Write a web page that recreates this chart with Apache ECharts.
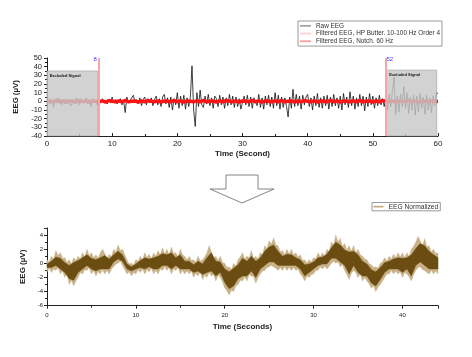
<!DOCTYPE html>
<html><head><meta charset="utf-8">
<script src="https://cdn.jsdelivr.net/npm/echarts@6/dist/echarts.min.js"></script>
<style>html,body{margin:0;padding:0;background:#fff}#c{width:472px;height:357px}</style>
</head><body><div id="c"></div><script>
// ---- Top chart: raw + filtered EEG (0-60 s) ----
const rawEEG = [
0,2,-3,1, -7,3,-2,4, 1,-4,2,-3, 3,-2,0,-5, 2,-3,4,-1, -4,3,-2,1, 4,-3,2,-6, 3,-2,1,-4,
2,-1,3,-2, 1,-3,2,-2, 5,-1,2,-3, -2,3,-4,1,
-13,5,-2,1, 3,7,-1,2, -3,4,-5,2, 5,-4,3,-2, 4,-5,2,6, -4,3,-6,5, 8,-3,4,-7, 5,-10,3,-4,
10,-8,6,-5, 7,-9,4,-6, 5,41,-10,-29, 10,-6,13,-4,
-7,6,-3,8, -5,4,-8,6, 3,-6,7,-4, 5,-8,4,-5, 8,-4,6,-7, 5,-6,3,-9,
-10,6,-4,7, -6,5,-8,4, 6,-5,8,-7, 4,-9,6,-4, 7,-6,5,-8, 10,-5,7,-9, 5,-7,4,-6,
-18,5,-8,14, -6,8,-5,6, -9,7,-4,5,
8,-6,4,-10, 6,-5,9,-7, 4,-8,6,-5, 7,-9,5,-6, 8,-5,4,-8, 6,-10,9,-4, 5,-7,11,-5, 6,-9,4,-6, 8,-5,6,-11, 5,-6,9,-4, 6,-8,4,-5, 7,-4,3,-6,
5,-10,8,-6, 12,28,-15,6, -12,8,-6,17, -8,10,-14,5, -10,7,-16,6, -12,9,-8,5, -15,7,-10,4, -13,6,-5,10, 9
];
const hpEEG = [0,1,-1,1,-1,0,1,-1,1,0,-1,1,-1,0,1,-1,1,0,-1,1, -1,0,1,-1,1,0,-1,1,-1,0, 1,-1,1,0,-1,1,-1,0,1,-1, 1,0,-1,1,-1,0,1,-1,1,0, -1,1,-1,0,1,-1,1,0,-1,1, 0];
const notchEEG = [0,0.5,-0.5,1,-0.5,0.5,-1,0.5,0,-0.5, 1,-0.5,0.5,-1,0.5,0,-0.5,0.5,-1,1, 0,-0.5,0.5,-0.5,1,-0.5,0,0.5,-1,0.5, -0.5,1,0,-0.5,0.5,-1,0.5,0,-0.5,1, -0.5,0.5,-1,0.5,0,-0.5,0.5,-0.5,1,-0.5, 0,0.5,-1,0.5,-0.5,1,0,-0.5,0.5,-1, 0.5,0,-0.5,1,-0.5,0.5,-1,0.5,0,-0.5, 0.5,-0.5,1,-0.5,0,0.5,-1,0.5,-0.5,1, 0,-0.5,0.5,-1,0.5,0,-0.5,1,-0.5,0.5, -1,0.5,0,-0.5,0.5,-0.5,1,-0.5,0,0.5, -1,0.5,-0.5,1,0,-0.5,0.5,-1,0.5,0, -0.5,1,-0.5,0.5,-1,0.5,0,-0.5,0.5,-0.5, 0];
const topSeriesNames = ['Raw EEG', 'Filtered EEG, HP Butter. 10-100 Hz Order 4', 'Filtered EEG, Notch. 60 Hz'];
const excludedRanges = [[0, 7.8, 35], [52.1, 59.8, 36]]; // [start s, end s, top µV]
const cutMarks = [8, 52];

// ---- Bottom chart: normalized EEG (0-44 s), envelope of the dense trace ----
const normLightHi = [0.5,0.2,1.0,0.6,1.8,1.1,1.5,0.7,0.8,0.1,0.5,-0.1,0.8,0.4,1.0,0.6,1.5,0.9,2.0,1.1,1.5,0.8,1.2,0.7,1.5,2.0,1.4,0.6,1.3,0.9,2.0,1.6,2.6,1.8,2.0,1.2,0.5,-0.1,0.0,-0.2,0.5,0.3,1.0,0.4,1.5,0.8,1.3,0.6,1.5,1.0,1.8,1.2,2.2,1.3,2.0,1.1,2.3,1.4,1.5,0.9,2.0,1.2,1.0,0.5,1.0,0.4,0.5,0.1,1.0,0.3,0.5,0.9,1.5,2.5,1.6,0.7,1.0,0.4,1.0,0.1,0.0,-0.6,-0.5,-0.9,0.0,-0.4,0.5,0.9,1.5,0.6,1.0,0.8,1.8,0.7,1.0,0.6,1.5,1.2,2.5,2.1,3.2,2.7,3.6,2.6,2.5,1.6,1.8,1.2,2.0,1.3,2.0,1.2,1.5,0.9,1.2,0.4,0.5,0.0,0.5,0.2,0.8,0.6,1.5,0.9,1.5,1.0,2.0,1.6,3.0,2.6,4.0,3.0,3.5,2.4,2.8,1.9,2.5,1.7,2.5,1.5,2.0,1.2,1.0,0.6,0.5,-0.1,-0.2,-0.6,-0.5,-0.7,0.0,0.2,0.8,0.3,1.0,0.6,1.3,0.8,1.5,0.9,1.5,0.8,1.5,1.0,2.0,2.4,3.0,3.8,3.2,2.4,3.5,2.3,2.5,1.6,2.0,1.4,1.5];
const normLightLo = [-1.2,-0.7,-1.3,-0.8,-1.0,-0.6,-1.5,-1.1,-2.0,-1.4,-3.0,-2.4,-3.2,-2.5,-2.0,-1.3,-1.5,-0.9,-1.0,-0.6,-1.5,-1.0,-1.8,-1.2,-1.5,-0.9,-1.5,-1.0,-1.5,-0.8,-0.5,-0.1,0.0,0.3,-0.3,-0.9,-1.5,-1.2,-1.8,-1.3,-1.5,-0.9,-1.3,-0.8,-1.5,-0.9,-1.2,-0.7,-1.5,-1.0,-1.5,-0.8,-1.0,-0.5,-1.0,-0.6,-1.5,-0.8,-1.0,-0.6,-1.5,-1.0,-1.5,-1.1,-1.5,-1.1,-2.0,-1.4,-1.8,-1.2,-2.3,-1.7,-2.0,-1.3,-1.8,-1.6,-2.5,-1.7,-2.0,-2.6,-3.5,-3.9,-4.5,-3.8,-4.0,-3.2,-3.0,-2.4,-2.5,-1.9,-2.5,-1.6,-1.8,-1.9,-2.8,-2.0,-1.5,-1.1,-1.0,-0.6,-0.5,-0.3,-0.5,-0.7,-1.0,-0.6,-1.0,-0.5,-1.0,-0.6,-1.0,-0.6,-1.0,-0.8,-1.5,-1.9,-2.5,-1.8,-2.0,-1.6,-1.5,-1.0,-1.0,-0.5,-0.8,-0.4,-0.8,-0.4,0.0,0.3,0.0,0.2,-0.5,-0.2,-1.0,-1.6,-2.3,-1.4,-1.0,-1.3,-2.0,-1.5,-2.5,-2.0,-2.5,-2.9,-3.5,-3.2,-4.0,-3.4,-3.0,-2.5,-2.0,-1.5,-1.5,-1.0,-1.5,-1.1,-1.5,-1.2,-2.0,-1.3,-1.5,-1.9,-2.5,-1.6,-1.0,-0.6,-0.5,-0.9,-1.0,-1.3,-1.5,-1.0,-1.5,-1.1,-1.5];
const normDarkHi = [-0.1,0.3,0.9,0.7,0.1,-0.3,0.1,0.4,0.8,1.2,0.7,0.5,0.8,1.1,0.6,1.2,1.7,1.2,-0.1,-0.5,-0.1,0.4,0.8,0.6,0.8,1.0,1.4,1.2,1.5,0.8,1.2,0.3,0.3,-0.2,0.3,-0.1,0.8,1.5,0.3,0.2,-0.8,-1.2,-0.7,-0.2,0.7,0.3,1.0,0.3,0.8,1.7,2.3,2.6,1.7,1.0,1.3,1.2,0.8,0.5,-0.2,-0.1,0.2,0.8,0.9,1.3,2.2,3.0,2.6,1.9,1.6,1.7,1.2,0.3,-0.1,-0.9,-1.2,-0.6,0.1,0.3,0.6,0.8,0.7,0.8,1.2,2.1,2.8,2.5,1.7,1.2,0.8];
const normDarkLo = [-0.6,-0.6,-0.3,-0.8,-1.3,-2.2,-2.4,-1.3,-0.8,-0.3,-0.8,-1.1,-0.8,-0.8,-0.8,0.2,0.6,0.3,-0.8,-1.1,-0.8,-0.6,-0.8,-0.5,-0.8,-0.8,-0.3,-0.3,-0.8,-0.3,-0.8,-0.8,-0.8,-1.3,-1.1,-1.6,-1.3,-1.1,-1.8,-1.3,-2.7,-3.6,-3.2,-2.2,-1.8,-1.8,-1.1,-2.0,-0.8,-0.3,0.2,0.2,-0.3,-0.3,-0.3,-0.3,-0.3,-0.8,-1.8,-1.3,-0.8,-0.3,-0.1,-0.1,0.7,0.7,0.2,-0.3,-1.5,-0.3,-1.3,-1.8,-1.8,-2.8,-3.2,-2.3,-1.3,-0.8,-0.8,-0.8,-1.3,-0.8,-1.8,-0.3,0.2,-0.3,-0.8,-0.8,-0.8];

const FONT = '"Liberation Sans", Arial, sans-serif';
const pts = (arr, span) => arr.map((v, i) => [i * span / (arr.length - 1), v]);
const bandData = (lo, hi, span) => lo.map((v, i) => [i * span / (lo.length - 1), v, hi[i]]);

// a band (polygon between lower and upper envelopes), drawn through the axis scales
function bandSeries(name, lo, hi, color, z) {
  const data = bandData(lo, hi, 44);
  return {
    name: name, type: 'custom', xAxisIndex: 1, yAxisIndex: 1, z: z, silent: true,
    itemStyle: { color: color },
    encode: { x: 0, y: [1, 2] },
    data: data,
    renderItem: function (params, api) {
      if (params.dataIndex !== 0) return null;
      const up = data.map(d => api.coord([d[0], d[2]]));
      const dn = data.map(d => api.coord([d[0], d[1]])).reverse();
      return { type: 'polygon', shape: { points: up.concat(dn) },
        style: { fill: color, stroke: color, lineWidth: 0.4 } };
    }
  };
}

const axCol = '#222';
function xAx(grid, max, name, o) {
  return Object.assign({
    type: 'value', gridIndex: grid, min: 0, max: max, interval: 10,
    axisLine: { show: true, onZero: false, lineStyle: { color: axCol, width: 1 } },
    splitLine: { show: false },
    name: name, nameLocation: 'middle',
  }, o);
}
const chart = echarts.init(document.getElementById('c'), null, { renderer: 'canvas' });
chart.setOption({
  animation: false,
  textStyle: { fontFamily: FONT },
  grid: [
    { left: 47, right: 34, top: 58, height: 78 },
    { left: 47, right: 34, top: 228, height: 77.7 }
  ],
  xAxis: [
    xAx(0, 60, 'Time (Second)', {
      axisTick: { inside: true, length: 3, lineStyle: { color: axCol } },
      minorTick: { show: true, splitNumber: 2, length: 2, lineStyle: { color: axCol } },
      axisLabel: { fontSize: 8, margin: 4, color: axCol, fontFamily: FONT },
      nameGap: 14, nameTextStyle: { fontSize: 8, fontWeight: 'bold', color: axCol, fontFamily: FONT }
    }),
    xAx(1, 44, 'Time (Seconds)', {
      axisTick: { inside: false, length: 3, lineStyle: { color: axCol } },
      minorTick: { show: true, splitNumber: 2, length: 2, lineStyle: { color: axCol } },
      axisLabel: { fontSize: 6, margin: 7, color: axCol, fontFamily: FONT, showMaxLabel: false },
      nameGap: 17, nameTextStyle: { fontSize: 8, fontWeight: 'bold', color: axCol, fontFamily: FONT }
    })
  ],
  yAxis: [
    {
      type: 'value', gridIndex: 0, min: -40, max: 50, interval: 10,
      axisLine: { show: true, onZero: false, lineStyle: { color: axCol } },
      axisTick: { show: true, length: 3, lineStyle: { color: axCol } },
      minorTick: { show: true, splitNumber: 2, length: 2, lineStyle: { color: axCol } },
      splitLine: { show: false },
      axisLabel: { fontSize: 7.5, margin: 5, color: axCol, fontFamily: FONT },
      name: 'EEG (µV)', nameLocation: 'middle', nameGap: 19,
      nameTextStyle: { fontSize: 7.8, fontWeight: 'bold', color: axCol, fontFamily: FONT }
    },
    {
      type: 'value', gridIndex: 1, min: -6, max: 5, interval: 2,
      axisLine: { show: true, onZero: false, lineStyle: { color: axCol } },
      axisTick: { show: true, length: 3, lineStyle: { color: axCol } },
      minorTick: { show: true, splitNumber: 2, length: 2, lineStyle: { color: axCol } },
      splitLine: { show: false },
      axisLabel: { fontSize: 6, margin: 4, color: axCol, fontFamily: FONT, formatter: v => (v === 5 ? '' : v) },
      name: 'EEG (µV)', nameLocation: 'middle', nameGap: 20,
      nameTextStyle: { fontSize: 8, fontWeight: 'bold', color: axCol, fontFamily: FONT }
    }
  ],
  legend: [
    {
      data: [
        { name: topSeriesNames[0], itemStyle: { color: '#a3a3a3' } },
        { name: topSeriesNames[1], itemStyle: { color: '#fad0d0' } },
        { name: topSeriesNames[2], itemStyle: { color: '#f5a0a0' } }
      ],
      orient: 'vertical', left: 298, top: 21, icon: 'rect', itemWidth: 11, itemHeight: 1.8, itemGap: 0,
      padding: [1, 2, 1, 2], borderColor: '#999', borderWidth: 1,
      textStyle: { fontSize: 6.4, lineHeight: 7.7, color: '#333', fontFamily: FONT },
      selectedMode: false
    },
    {
      data: [{ name: 'EEG Normalized', itemStyle: { color: '#c4aa7a' } }],
      left: 372, top: 202.5, icon: 'rect', itemWidth: 10, itemHeight: 1.6,
      padding: [0.5, 2, 0.5, 1.5], borderColor: '#999', borderWidth: 1,
      textStyle: { fontSize: 6.7, lineHeight: 7.3, color: '#333', fontFamily: FONT },
      selectedMode: false
    }
  ],
  graphic: [{
    type: 'polygon', silent: true,
    shape: { points: [[226, 175], [258, 175], [258, 189], [274, 189], [242, 203], [210, 189], [226, 189]] },
    style: { fill: '#fff', stroke: '#666', lineWidth: 0.8 }
  }],
  series: [
    { name: topSeriesNames[0], type: 'line', xAxisIndex: 0, yAxisIndex: 0, data: pts(rawEEG, 60),
      symbol: 'none', lineStyle: { color: '#111', width: 0.8 }, itemStyle: { color: '#111' }, z: 2 },
    { name: topSeriesNames[1], type: 'line', xAxisIndex: 0, yAxisIndex: 0, data: pts(hpEEG, 60),
      symbol: 'none', lineStyle: { color: '#ffb0b0', width: 1 }, itemStyle: { color: '#ffb0b0' }, z: 3 },
    { name: topSeriesNames[2], type: 'line', xAxisIndex: 0, yAxisIndex: 0, data: pts(notchEEG, 60),
      symbol: 'none', lineStyle: { color: '#ff1414', width: 3.5 }, itemStyle: { color: '#ff1414' }, z: 4 },
    { type: 'line', xAxisIndex: 0, yAxisIndex: 0, data: [[0, 0]], symbol: 'none', lineStyle: { opacity: 0 }, z: 6,
      markArea: {
        silent: true, z: 6,
        itemStyle: { color: 'rgba(200,200,200,0.82)', borderColor: '#9a9a9a', borderWidth: 0.6 },
        label: { show: true, position: 'insideTopLeft', formatter: 'Excluded Signal', fontSize: 4,
          fontWeight: 'bold', color: '#111', distance: 3, fontFamily: FONT },
        data: excludedRanges.map(r => [{ xAxis: r[0], yAxis: -40 }, { xAxis: r[1], yAxis: r[2] }])
      }
    },
    { type: 'line', xAxisIndex: 0, yAxisIndex: 0, data: [[0, 0]], symbol: 'none', lineStyle: { opacity: 0 }, z: 7,
      markLine: {
        silent: true, symbol: 'none', z: 7,
        lineStyle: { color: '#f6a6a6', width: 2, type: 'solid' },
        label: { show: true, position: 'end', color: '#3b3bff', fontSize: 6, fontFamily: FONT, formatter: p => String(p.value) },
        data: [
          { xAxis: cutMarks[0], label: { offset: [-4, 9] } },
          { xAxis: cutMarks[1], label: { offset: [4, 9] } }
        ]
      }
    },
    bandSeries('EEG Normalized', normLightLo, normLightHi, '#c8b087', 2),
    bandSeries('EEG Normalized dark', normDarkLo, normDarkHi, '#6b4d12', 3)
  ]
});
</script></body></html>
